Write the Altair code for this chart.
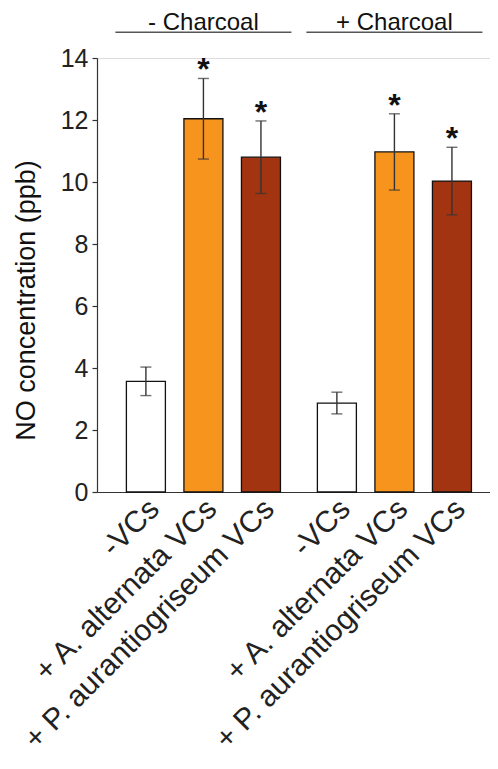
import altair as alt
import pandas as pd

# ---- data ----
groups = ["- Charcoal", "+ Charcoal"]
conditions = ["-VCs", "+ A. alternata VCs", "+ P. aurantiogriseum VCs"]
means = [3.57, 12.04, 10.80, 2.87, 10.97, 10.03]
errors = [0.46, 1.30, 1.17, 0.35, 1.23, 1.09]
significant = [False, True, True, False, True, True]
bar_colors = ["#FFFFFF", "#F7941E", "#A33411"]
y_ticks = [0, 2, 4, 6, 8, 10, 12, 14]

FONT = "Liberation Sans"
group_step = len(conditions) - 1 + 1.32  # extra gap between the two groups

rows = []
for gi, g in enumerate(groups):
    for ci, c in enumerate(conditions):
        i = gi * len(conditions) + ci
        rows.append(dict(
            pos=ci + gi * group_step,
            group=g,
            condition=c,
            mean=means[i],
            lo=means[i] - errors[i],
            hi=means[i] + errors[i],
            star="*" if significant[i] else "",
            color=bar_colors[ci],
        ))
df = pd.DataFrame(rows)

hdr = pd.DataFrame([
    dict(group=g,
         center=1 + gi * group_step,
         left=1 + gi * group_step - 1.53,
         right=1 + gi * group_step + 1.53)
    for gi, g in enumerate(groups)
])

positions = list(df["pos"])
labels = list(df["condition"])
expr = f"'{labels[-1]}'"
for p, lab in reversed(list(zip(positions[:-1], labels[:-1]))):
    expr = f"datum.value < {p + 0.4} ? '{lab}' : " + expr

W = 393
H = 434
xscale = alt.Scale(domain=[-0.763, -0.763 + W / 59.03], nice=False, zero=False)
yscale = alt.Scale(domain=[0, 14], nice=False)

x_axis = alt.Axis(
    values=positions, labelExpr=expr, ticks=False, tickSize=0, grid=False,
    title=None, labelAngle=315, labelAlign="right", labelBaseline="middle",
    labelFont=FONT, labelFontSize=30, labelColor="#222", labelPadding=12,
    labelOffset=8, domainColor="#333", domainWidth=1.2, labelOverlap=False,
    labelBound=False, labelFlush=False, labelLimit=0,
)
y_axis = alt.Axis(
    values=y_ticks, grid=False, title="NO concentration (ppb)",
    titleFont=FONT, titleFontSize=27, titleFontWeight="normal", titleColor="#111",
    titlePadding=20, titleY=H / 2 + 25, labelFont=FONT, labelFontSize=25,
    labelColor="#222", labelPadding=4, tickSize=5, tickColor="#333",
    domainColor="#333", domainWidth=1.2, tickWidth=1.2,
)

base = alt.Chart(df)

bars = base.mark_bar(size=39, stroke="#111", strokeWidth=1.3).encode(
    x=alt.X("pos:Q", scale=xscale, axis=x_axis),
    y=alt.Y("mean:Q", scale=yscale, axis=y_axis),
    fill=alt.Fill("color:N", scale=None, legend=None),
)

err = base.mark_rule(color="#333", strokeWidth=1.4).encode(
    x="pos:Q", y="lo:Q", y2="hi:Q"
)
cap_hi = base.mark_tick(color="#333", thickness=1.4, size=11, orient="horizontal").encode(
    x="pos:Q", y="hi:Q"
)
cap_lo = base.mark_tick(color="#333", thickness=1.4, size=11, orient="horizontal").encode(
    x="pos:Q", y="lo:Q"
)
stars = base.mark_text(font=FONT, fontSize=32, fontWeight="bold", color="#111",
                       baseline="alphabetic", dy=2).encode(
    x="pos:Q", y="hi:Q", text="star:N"
)

hdr_base = alt.Chart(hdr)
hdr_line = hdr_base.mark_rule(color="#555", strokeWidth=1.5, clip=False).encode(
    x="left:Q", x2="right:Q", y=alt.value(-25.7)
)
hdr_text = hdr_base.mark_text(font=FONT, fontSize=24, color="#111",
                              baseline="alphabetic", clip=False).encode(
    x="center:Q", y=alt.value(-28.5), text="group:N"
)

chart = alt.layer(bars, err, cap_hi, cap_lo, stars, hdr_line, hdr_text).properties(
    width=W, height=H,
    autosize=alt.AutoSizeParams(type="none"),
    padding={"left": 89, "top": 50, "right": 0, "bottom": 269},
).configure_view(stroke=None).configure(background="white")

chart.save("out.html", embed_options={"renderer": "svg", "actions": False})
